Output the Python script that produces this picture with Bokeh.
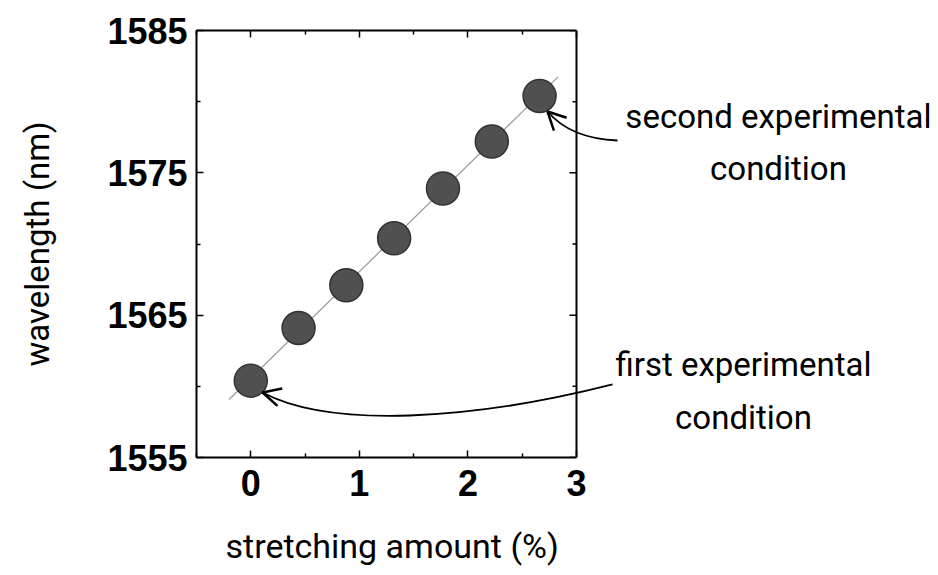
import numpy as np
from bokeh.plotting import figure
from bokeh.models import (Range1d, LinearAxis, Label, Arrow, OpenHead, FixedTicker, Title)
from bokeh.embed import file_html
from bokeh.resources import INLINE

# ---- data ----
stretch = [0.0, 0.44, 0.88, 1.32, 1.77, 2.22, 2.66]
wavelength = [1560.4, 1564.1, 1567.1, 1570.4, 1573.9, 1577.2, 1580.4]
fit_x = [-0.2, 2.83]

x_ticks = [0, 1, 2, 3]
x_minor = [-0.5, 0.5, 1.5, 2.5]
y_ticks = [1555, 1565, 1575, 1585]
y_minor = [1560, 1570, 1580]
x_box = (-0.5, 3.0)
y_box = (1555, 1585)

x_label = "stretching amount (%)"
y_label = "wavelength (nm)"

# annotation anchors (data units)
label2_lines = ["second experimental", "condition"]
label2_x = [4.860, 4.860]
label2_y = [1578.96, 1575.30]
label1_lines = ["first experimental", "condition"]
label1_x = [4.538, 4.538]
label1_y = [1561.53, 1557.81]
# curve control points: start, control(s), tip
curve2_x = [3.378, 2.945, 2.733]
curve2_y = [1577.27, 1577.41, 1579.31]
curve1_x = [3.332, 2.024, 0.734, 0.108]
curve1_y = [1560.13, 1557.60, 1557.04, 1559.57]
# arrow-head direction (point the head comes from)
head2_from = (2.853, 1578.40)
head1_from = (0.274, 1559.22)

LABEL_FONT = "Roboto"
TICK_FONT = "Liberation Sans"

FRAME_LEFT = 196
BOX_W = 380
TOTAL_W = 935
FRAME_W = TOTAL_W - FRAME_LEFT
px_per_x = BOX_W / (x_box[1] - x_box[0])
x_end = x_box[0] + FRAME_W / px_per_x
FRAME_H = 427

p = figure(frame_width=FRAME_W, frame_height=FRAME_H, output_backend="svg", toolbar_location=None,
           x_range=Range1d(x_box[0], x_end), y_range=Range1d(*y_box),
           min_border_left=FRAME_LEFT, min_border_right=0, min_border_top=30, min_border_bottom=110,
           y_axis_label=y_label)
p.grid.visible = False
p.outline_line_color = None
p.background_fill_color = "white"
p.border_fill_color = "white"

bottom = p.below[0]
left = p.left[0]
top = LinearAxis()
p.add_layout(top, "above")

for ax in (bottom, left, top):
    ax.major_tick_in = 7
    ax.major_tick_out = 0
    ax.minor_tick_in = 4
    ax.minor_tick_out = 0
    ax.axis_line_width = 2
    ax.major_tick_line_width = 1.5
    ax.minor_tick_line_width = 1.5
    ax.major_label_text_font = TICK_FONT
    ax.major_label_text_font_style = "bold"
    ax.major_label_text_font_size = "36px"
    ax.major_label_text_color = "black"
    ax.axis_label_text_font = LABEL_FONT
    ax.axis_label_text_font_style = "normal"
    ax.axis_label_text_font_size = "33px"
    ax.axis_label_text_color = "black"

for ax in (bottom, top):
    ax.ticker = FixedTicker(ticks=x_ticks, minor_ticks=x_minor)
    ax.bounds = x_box
left.ticker = FixedTicker(ticks=y_ticks, minor_ticks=y_minor)
top.major_label_overrides = {t: "" for t in x_ticks}
bottom.major_label_standoff = 12
left.major_label_standoff = 9
left.axis_label_standoff = 47

p.add_layout(Title(text=x_label, align="left", offset=29, standoff=50,
                   text_font=LABEL_FONT, text_font_size="34px", text_font_style="normal",
                   text_color="black"), "below")

# right edge of the box with inward ticks
p.segment(x0=[x_box[1]], y0=[y_box[0]], x1=[x_box[1]], y1=[y_box[1]], line_color="black", line_width=2)
maj_len = 7 / px_per_x
min_len = 4 / px_per_x
p.segment(x0=[x_box[1]] * len(y_ticks), y0=y_ticks, x1=[x_box[1] - maj_len] * len(y_ticks), y1=y_ticks,
          line_color="black", line_width=1.5)
p.segment(x0=[x_box[1]] * len(y_minor), y0=y_minor, x1=[x_box[1] - min_len] * len(y_minor), y1=y_minor,
          line_color="black", line_width=1.5)

# fit line
coef = np.polyfit(stretch, wavelength, 1)
fit_y = list(np.polyval(coef, fit_x))
p.line(fit_x, fit_y, line_color="#999999", line_width=1.2)

p.scatter(stretch, wavelength, size=33, fill_color="#505050", line_color="#333333", line_width=1.5)

# labels
for lines, xs, ys in ((label2_lines, label2_x, label2_y), (label1_lines, label1_x, label1_y)):
    for t, x, y in zip(lines, xs, ys):
        p.add_layout(Label(x=x, y=y, text=t, text_align="center", text_baseline="alphabetic",
                           text_font=LABEL_FONT, text_font_size="33px", text_color="black"))

# curved leader lines
p.quadratic(x0=[curve2_x[0]], y0=[curve2_y[0]], cx=[curve2_x[1]], cy=[curve2_y[1]],
            x1=[curve2_x[2]], y1=[curve2_y[2]], line_color="black", line_width=1.8)
p.bezier(x0=[curve1_x[0]], y0=[curve1_y[0]], cx0=[curve1_x[1]], cy0=[curve1_y[1]],
         cx1=[curve1_x[2]], cy1=[curve1_y[2]], x1=[curve1_x[3]], y1=[curve1_y[3]],
         line_color="black", line_width=1.8)

for frm, cx, cy in ((head2_from, curve2_x, curve2_y), (head1_from, curve1_x, curve1_y)):
    p.add_layout(Arrow(x_start=frm[0], y_start=frm[1], x_end=cx[-1], y_end=cy[-1],
                       line_width=1.8, line_color="black", line_alpha=0,
                       end=OpenHead(size=18, line_width=2.5, line_color="black")))

open("out.html", "w").write(file_html(p, INLINE))
